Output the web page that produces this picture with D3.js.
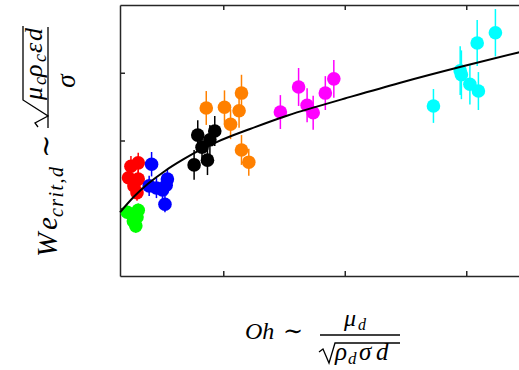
<!DOCTYPE html>
<html lang="en">

<head>
  <meta charset="UTF-8">
  <title>We crit vs Oh</title>
  <script src="https://cdn.jsdelivr.net/npm/d3@7/dist/d3.min.js"></script>
  <style>
    html,
    body {
      margin: 0;
      background: #fff;
    }

    svg {
      display: block;
    }

    .math {
      font-family: 'Liberation Serif', 'DejaVu Serif', serif;
      font-style: italic;
      fill: #000;
    }
  </style>
</head>

<body>
  <script>
    // canvas
    const width = 519
    const height = 370

    // ticks (the figure has no tick labels)
    const xTicks = [1, 2, 3]
    const yTicks = [1, 2, 3]

    // data, one group per colour
    const redX = [0.24, 0.30, 0.22, 0.30, 0.265, 0.29]
    const redY = [1.62, 1.67, 1.45, 1.43, 1.33, 1.23]
    const redErr = [0.15, 0.15, 0.13, 0.13, 0.13, 0.12]

    const greenX = [0.21, 0.30, 0.29, 0.26, 0.28]
    const greenY = [0.94, 0.97, 0.87, 0.81, 0.74]
    const greenErr = [0.1, 0.1, 0.1, 0.1, 0.1]

    const blueX = [0.41, 0.39, 0.45, 0.50, 0.54, 0.53, 0.52]
    const blueY = [1.65, 1.33, 1.30, 1.27, 1.43, 1.34, 1.06]
    const blueErr = [0.18, 0.15, 0.15, 0.15, 0.15, 0.15, 0.12]

    const blackX = [0.76, 0.87, 0.79, 0.93, 0.825, 0.89]
    const blackY = [1.64, 1.71, 2.08, 2.14, 1.90, 2.01]
    const blackErr = [0.22, 0.22, 0.22, 0.22, 0.22, 0.22]

    const orangeX = [0.86, 1.01, 1.15, 1.13, 1.06, 1.15, 1.21]
    const orangeY = [2.48, 2.49, 2.70, 2.44, 2.24, 1.86, 1.68]
    const orangeErr = [0.25, 0.25, 0.27, 0.25, 0.22, 0.22, 0.2]

    const magentaX = [1.47, 1.62, 1.69, 1.74, 1.84, 1.91]
    const magentaY = [2.42, 2.79, 2.52, 2.41, 2.70, 2.91]
    const magentaErr = [0.25, 0.28, 0.25, 0.25, 0.25, 0.28]

    const cyanX = [2.73, 2.95, 2.96, 3.03, 3.10, 3.09, 3.24]
    const cyanY = [2.51, 3.03, 2.97, 2.83, 2.73, 3.44, 3.59]
    const cyanErr = [0.25, 0.36, 0.36, 0.3, 0.28, 0.34, 0.35]

    // fitted trend
    const fitX = [0.15, 0.27, 0.38, 0.52, 0.67, 0.81, 0.95, 1.22, 1.53, 1.77, 2.0, 2.45, 2.98, 3.43, 3.5]
    const fitY = [0.94, 1.18, 1.36, 1.55, 1.72, 1.86, 1.98, 2.17, 2.37, 2.50, 2.62, 2.85, 3.10, 3.30, 3.33]

    const series = [
      { color: '#ff0000', x: redX, y: redY, err: redErr },
      { color: '#00ff00', x: greenX, y: greenY, err: greenErr },
      { color: '#0000ff', x: blueX, y: blueY, err: blueErr },
      { color: '#000000', x: blackX, y: blackY, err: blackErr },
      { color: '#ff8000', x: orangeX, y: orangeY, err: orangeErr },
      { color: '#ff00ff', x: magentaX, y: magentaY, err: magentaErr },
      { color: '#00ffff', x: cyanX, y: cyanY, err: cyanErr }
    ]

    const svg = d3.select('body').append('svg')
      .attr('width', width)
      .attr('height', height)

    // scales
    const x = d3.scaleLinear().domain([0.15, 3.5]).range([120, 527])
    const y = d3.scaleLinear().domain([0, 4]).range([276, 5])

    // box with inward ticks
    const axisStyle = g => {
      g.select('.domain').attr('stroke', '#262626').attr('stroke-width', 1.5)
      g.selectAll('.tick line').attr('stroke', '#262626').attr('stroke-width', 1.5)
    }

    svg.append('g')
      .attr('transform', `translate(0, ${y(0)})`)
      .call(d3.axisBottom(x).tickValues(xTicks).tickSizeInner(-5).tickSizeOuter(0).tickFormat(''))
      .call(axisStyle)

    svg.append('g')
      .attr('transform', `translate(0, ${y(4)})`)
      .call(d3.axisTop(x).tickValues(xTicks).tickSizeInner(-5).tickSizeOuter(0).tickFormat(''))
      .call(axisStyle)

    svg.append('g')
      .attr('transform', `translate(${x(0.15)}, 0)`)
      .call(d3.axisLeft(y).tickValues(yTicks).tickSizeInner(-5).tickSizeOuter(0).tickFormat(''))
      .call(axisStyle)

    // points with error bars
    series.forEach(s => {
      const pts = d3.range(s.x.length).map(i => ({ x: s.x[i], y: s.y[i], e: s.err[i] }))
      const g = svg.append('g')

      g.selectAll('line')
        .data(pts)
        .enter()
        .append('line')
        .attr('x1', d => x(d.x))
        .attr('x2', d => x(d.x))
        .attr('y1', d => y(d.y - d.e))
        .attr('y2', d => y(d.y + d.e))
        .attr('stroke', s.color)
        .attr('stroke-width', 1.5)

      g.selectAll('circle')
        .data(pts)
        .enter()
        .append('circle')
        .attr('cx', d => x(d.x))
        .attr('cy', d => y(d.y))
        .attr('r', 6.8)
        .attr('fill', s.color)
    })

    // fit curve
    const line = d3.line()
      .x(d => x(d[0]))
      .y(d => y(d[1]))
      .curve(d3.curveMonotoneX)

    svg.append('path')
      .attr('d', line(d3.zip(fitX, fitY)))
      .attr('fill', 'none')
      .attr('stroke', '#000')
      .attr('stroke-width', 2)

    // helper: put glyphs at given positions
    const glyph = (g, str, gx, gy, size, upright) => {
      const t = g.append('text').attr('x', gx).attr('y', gy).attr('font-size', size).text(str)
      if (upright) t.style('font-style', 'normal')
      return t
    }

    // x label: Oh ~ mu_d / sqrt(rho_d sigma d)
    const xl = svg.append('g').attr('class', 'math')
    glyph(xl, 'Oh', 245, 339, 24)
    glyph(xl, '∼', 283, 339, 24, true)
    xl.append('line')
      .attr('x1', 320).attr('x2', 400).attr('y1', 335).attr('y2', 335)
      .attr('stroke', '#000').attr('stroke-width', 1.3)
    glyph(xl, 'μ', 344, 326, 24)
    glyph(xl, 'd', 358, 330, 16)
    xl.append('path')
      .attr('d', 'M319,352 L323,349 L329,363 L335,343 L400,343')
      .attr('fill', 'none').attr('stroke', '#000').attr('stroke-width', 1.3)
    glyph(xl, 'ρ', 335, 360, 25)
    glyph(xl, 'd', 348, 364, 17)
    glyph(xl, 'σ', 359, 360, 25)
    glyph(xl, 'd', 376, 360, 25)

    // y label: We_crit,d ~ sqrt(mu_c rho_c eps d) / sigma
    const yl = svg.append('g').attr('class', 'math').attr('transform', 'translate(57, 257) rotate(-90)')
    glyph(yl, 'W', 0, 0, 29)
    glyph(yl, 'e', 27, 0, 29)
    yl.append('text').attr('x', 40).attr('y', 6).attr('font-size', 20)
      .attr('textLength', 50).attr('lengthAdjust', 'spacing').text('crit,d')
    glyph(yl, '∼', 99, -2, 28, true)
    yl.append('line')
      .attr('x1', 129).attr('x2', 230).attr('y1', -9).attr('y2', -9)
      .attr('stroke', '#000').attr('stroke-width', 1.3)
    yl.append('path')
      .attr('d', 'M130,-19 L134,-22 L141,-9 L157,-34 L231,-34')
      .attr('fill', 'none').attr('stroke', '#000').attr('stroke-width', 1.3)
    glyph(yl, 'μ', 157, -15, 26)
    glyph(yl, 'c', 172, -11, 18)
    glyph(yl, 'ρ', 180, -15, 26)
    glyph(yl, 'c', 195, -11, 18)
    glyph(yl, 'ε', 204, -15, 26)
    glyph(yl, 'd', 216, -15, 26)
    yl.append('text').attr('x', 176).attr('y', 18).attr('text-anchor', 'middle').attr('font-size', 27).text('σ')
  </script>
</body>

</html>
